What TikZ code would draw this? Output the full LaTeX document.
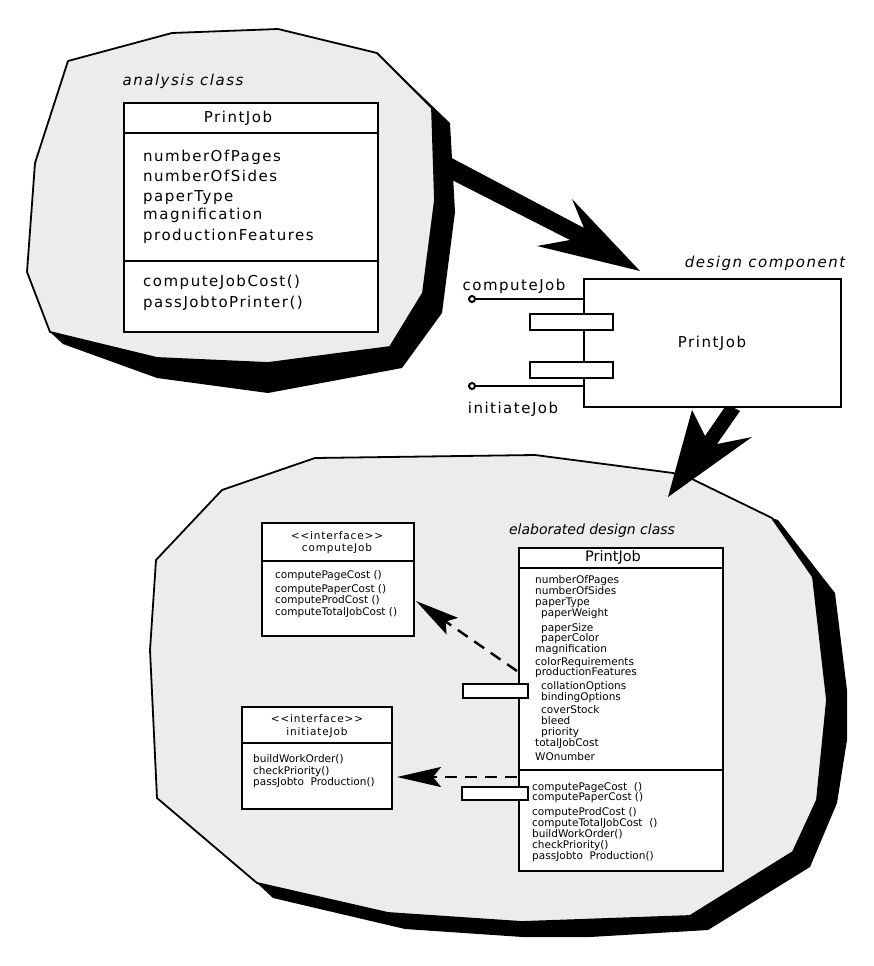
\documentclass[tikz,border=0pt]{standalone}
\usepackage{fontspec}
\setmainfont{DejaVu Sans}
\newfontfamily\topf[LetterSpace=10,ItalicFont={DejaVu Sans Oblique}]{DejaVu Sans}
\newfontfamily\smf[ItalicFont={DejaVu Sans Oblique}]{DejaVu Sans}
\newfontfamily\hdf[LetterSpace=8]{DejaVu Sans}
\usetikzlibrary{arrows.meta}
\definecolor{blobgray}{RGB}{236,236,236}
\begin{document}
\begin{tikzpicture}[x=1pt,y=-1pt,
  blob/.style={fill=blobgray,draw=black,line width=1.8pt,line join=round},
  shadowfill/.style={fill=black},
  umlbox/.style={draw,line width=2.2pt,fill=white,inner sep=0pt,anchor=north west},
  sepline/.style={line width=2pt},
  bigtxt/.style={font=\topf\fontsize{15}{18}\selectfont,inner sep=0pt,text height=11pt,text depth=3pt},
  bigit/.style={font=\topf\itshape\fontsize{15}{18}\selectfont,inner sep=0pt,text height=11pt,text depth=3pt},
  smtxt/.style={font=\smf\fontsize{10.5}{12}\selectfont,inner sep=0pt,anchor=west,text height=7.6pt,text depth=2pt},
  hdtxt/.style={font=\hdf\fontsize{10.5}{12}\selectfont,inner sep=0pt,text height=7.6pt,text depth=2pt},
  port/.style={draw,line width=2.2pt,fill=white,inner sep=0pt,anchor=north west},
  bigarrow/.style={fill=black,line join=miter},
  dep/.style={dash pattern=on 12pt off 8pt,line width=2.4pt,-{Stealth[length=44pt,width=20pt,inset=8pt]}},
  lolli/.style={circle,draw,line width=2pt,fill=white,inner sep=0pt,minimum size=6pt},
  wire/.style={line width=1.7pt},
]
\useasboundingbox (0,0) rectangle (874,966);

% ---------- bottom blob ----------
\fill[shadowfill] (772,518) -- (778,520) -- (835,593) -- (847,690) -- (847,740) -- (837,803) -- (810,867) -- (708,930) -- (590,937) -- (523,937) -- (405,929) -- (273,898) -- (257,883) -- (388,913) -- (522,922) -- (690,916) -- (793,852) -- (817,800) -- (827,700) -- (813,577) -- cycle;
\path[blob] (222,490) -- (315,458) -- (535,455) -- (673,473) -- (692,479) -- (772,518) -- (813,577) -- (827,700) -- (817,800) -- (793,852) -- (690,916) -- (522,922) -- (388,913) -- (257,883) -- (157,798) -- (150,650) -- (156,560) -- cycle;

% ---------- top blob ----------
\fill[shadowfill] (377,53) -- (450,123) -- (455,212) -- (442,313) -- (402,368) -- (268,393) -- (157,378) -- (63,344) -- (50,332) -- (157,358) -- (268,363) -- (390,347) -- (423,293) -- (435,200) -- (432,108) -- cycle;
\path[blob] (68,61) -- (172,33) -- (278,29) -- (377,53) -- (432,108) -- (435,200) -- (423,293) -- (390,347) -- (268,363) -- (157,358) -- (50,332) -- (27,272) -- (35,163) -- cycle;

% ---------- big arrows ----------
\fill[bigarrow] (446,155) -- (584,228) -- (572,199) -- (640,271) -- (537,246) -- (570,240) -- (446,177) -- cycle;
\fill[bigarrow] (727,404) -- (740,411) -- (717,444) -- (752,437) -- (668,497) -- (692,410) -- (705,436) -- cycle;

% ---------- analysis class ----------
\node[bigit] (lblA) at (183,81) {analysis class};
\node[umlbox,minimum width=254pt,minimum height=229pt] (ac) at (123,102) {};
\draw[sepline] (123,133) -- (377,133);
\draw[sepline] (123,261) -- (377,261);
\node[bigtxt] (acN) at (238,118) {PrintJob};
\node[bigtxt,anchor=west] (a1) at (143,157) {numberOfPages};
\node[bigtxt,anchor=west] (a2) at (143,177) {numberOfSides};
\node[bigtxt,anchor=west] (a3) at (143,197) {paperType};
\node[bigtxt,anchor=west] (a4) at (143,215) {magnification};
\node[bigtxt,anchor=west] (a5) at (143,236) {productionFeatures};
\node[bigtxt,anchor=west] (m1) at (143,282) {computeJobCost()};
\node[bigtxt,anchor=west] (m2) at (143,303) {passJobtoPrinter()};

% ---------- design component ----------
\node[bigit] (lblD) at (765,263) {design component};
\node[umlbox,minimum width=257pt,minimum height=128pt] (dc) at (583,278) {};
\node[bigtxt] (dcN) at (712,343) {PrintJob};
\node[lolli] (cjC) at (472,299) {};
\node[lolli] (ijC) at (472,386) {};
\draw[wire] (cjC) -- (dc.west |- cjC);
\draw[wire] (ijC) -- (dc.west |- ijC);
\node[port,minimum width=83pt,minimum height=16pt] (dp1) at (529,313) {};
\node[port,minimum width=83pt,minimum height=16pt] (dp2) at (529,361) {};
\node[bigtxt] (cjL) at (514,286) {computeJob};
\node[bigtxt] (ijL) at (513,409) {initiateJob};

% ---------- elaborated design class ----------
\node[font=\smf\itshape\fontsize{14}{16}\selectfont,inner sep=0pt] (lblE) at (592,531) {elaborated design class};
\node[umlbox,minimum width=204pt,minimum height=323pt] (ec) at (518,547) {};
\draw[sepline] (518,568) -- (722,568);
\draw[sepline] (518,770) -- (722,770);
\node[font=\smf\fontsize{14.5}{16}\selectfont,inner sep=0pt] (ecN) at (613,557) {PrintJob};
\node[smtxt] (e1) at (535,581) {numberOfPages};
\node[smtxt] (e2) at (535,592) {numberOfSides};
\node[smtxt] (e3) at (535,603) {paperType};
\node[smtxt] (e4) at (541,614) {paperWeight};
\node[smtxt] (e5) at (541,629) {paperSize};
\node[smtxt] (e6) at (541,639) {paperColor};
\node[smtxt] (e7) at (535,650) {magnification};
\node[smtxt] (e8) at (535,663) {colorRequirements};
\node[smtxt] (e9) at (535,673) {productionFeatures};
\node[smtxt] (e10) at (541,687) {collationOptions};
\node[smtxt] (e11) at (541,698) {bindingOptions};
\node[smtxt] (e12) at (541,711) {coverStock};
\node[smtxt] (e13) at (541,722) {bleed};
\node[smtxt] (e14) at (541,733) {priority};
\node[smtxt] (e15) at (535,744) {totalJobCost};
\node[smtxt] (e16) at (535,758) {WOnumber};
\node[smtxt] (f1) at (532,788) {computePageCost~~()};
\node[smtxt] (f2) at (532,798) {computePaperCost ()};
\node[smtxt] (f3) at (532,813) {computeProdCost ()};
\node[smtxt] (f4) at (532,824) {computeTotalJobCost~~()};
\node[smtxt] (f5) at (532,835) {buildWorkOrder()};
\node[smtxt] (f6) at (532,846) {checkPriority()};
\node[smtxt] (f7) at (532,857) {passJobto~~Production()};
\node[port,minimum width=65pt,minimum height=14pt] (ep1) at (462,683) {};
\node[port,minimum width=66pt,minimum height=13pt] (ep2) at (461,786) {};

% ---------- interface computeJob ----------
\node[umlbox,minimum width=152pt,minimum height=113pt] (ci) at (261,522) {};
\draw[sepline] (261,561) -- (413,561);
\node[hdtxt] (ciS) at (337,537) {<{}<interface>{}>};
\node[hdtxt] (ciN) at (337,549) {computeJob};
\node[smtxt] (c1) at (275,576) {computePageCost ()};
\node[smtxt] (c2) at (275,590) {computePaperCost ()};
\node[smtxt] (c3) at (275,601) {computeProdCost ()};
\node[smtxt] (c4) at (275,613) {computeTotalJobCost ()};

% ---------- interface initiateJob ----------
\node[umlbox,minimum width=150pt,minimum height=102pt] (ij) at (241,706) {};
\draw[sepline] (241,743) -- (391,743);
\node[hdtxt] (ijS) at (317,720) {<{}<interface>{}>};
\node[hdtxt] (ijN) at (317,733) {initiateJob};
\node[smtxt] (i1) at (253,760) {buildWorkOrder()};
\node[smtxt] (i2) at (253,772) {checkPriority()};
\node[smtxt] (i3) at (253,783) {passJobto~~Production()};

% ---------- dependencies ----------
\coordinate (d1s) at (517,671);
\coordinate (d1e) at (416,601);
\coordinate (d2s) at (517,777);
\coordinate (d2e) at (397,777);
\draw[dep] (d1s) -- (d1e);
\draw[dep] (d2s) -- (d2e);
\end{tikzpicture}
\end{document}
